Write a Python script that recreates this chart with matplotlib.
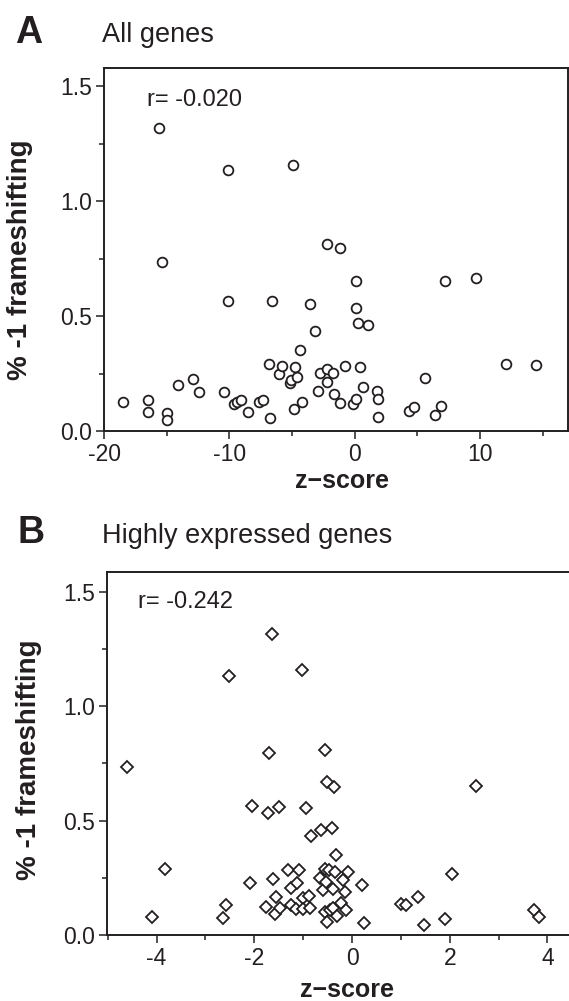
import numpy as np
import matplotlib
matplotlib.use("Agg")
import matplotlib.pyplot as plt
from matplotlib.ticker import MultipleLocator

plt.rcParams['font.family'] = ['Liberation Sans', 'DejaVu Sans']

# Panel A: all genes (z-score, % -1 frameshifting)
z_all = [-18.5, -16.5, -16.5, -15.0, -15.0, -15.6, -15.4, -14.1, -12.9, -12.4,
         -10.4, -10.1, -10.1, -9.6, -9.4, -9.1, -8.5, -7.6, -7.3, -6.8,
         -6.75, -6.6, -6.0, -5.8, -5.2, -5.1, -4.9, -4.86, -4.8, -4.6,
         -4.35, -4.2, -3.6, -3.2, -2.95, -2.8, -2.2, -2.2, -2.2, -1.73,
         -1.67, -1.17, -1.14, -0.8, -0.13, 0.13, 0.13, 0.13, 0.28, 0.42,
         0.66, 1.07, 1.78, 1.89, 1.83, 4.3, 4.7, 5.6, 6.37, 6.85,
         7.2, 9.7, 12.1, 14.45]
fs_all = [0.127, 0.135, 0.081, 0.080, 0.048, 1.317, 0.736, 0.200, 0.226, 0.168,
          0.171, 1.135, 0.567, 0.117, 0.125, 0.135, 0.081, 0.127, 0.135, 0.291,
          0.055, 0.567, 0.248, 0.284, 0.207, 0.220, 1.157, 0.094, 0.277, 0.233,
          0.354, 0.127, 0.552, 0.436, 0.173, 0.251, 0.812, 0.268, 0.212, 0.254,
          0.162, 0.120, 0.794, 0.284, 0.116, 0.652, 0.535, 0.138, 0.471, 0.278,
          0.193, 0.461, 0.174, 0.139, 0.060, 0.088, 0.103, 0.229, 0.070, 0.109,
          0.652, 0.665, 0.290, 0.288]

# Panel B: highly expressed genes
z_high = [-4.61, -4.09, -3.82, -2.64, -2.57, -2.52, -2.09, -2.04, -1.75, -1.71,
          -1.70, -1.64, -1.62, -1.57, -1.55, -1.50, -1.48, -1.32, -1.25, -1.25,
          -1.14, -1.12, -1.09, -1.02, -1.0, -1.0, -0.94, -0.88, -0.86, -0.84,
          -0.63, -0.65, -0.60, -0.55, -0.52, -0.37, -0.55, -0.55, -0.54, -0.51,
          -0.48, -0.46, -0.41, -0.39, -0.39, -0.35, -0.32, -0.31, -0.22, -0.18,
          -0.15, -0.13, -0.08, 0.20, 0.24, 1.01, 1.11, 1.34, 1.47, 1.91,
          2.05, 2.53, 3.72, 3.82]
fs_high = [0.733, 0.077, 0.287, 0.073, 0.132, 1.131, 0.229, 0.563, 0.123, 0.534,
           0.796, 1.314, 0.244, 0.091, 0.164, 0.560, 0.120, 0.283, 0.205, 0.132,
           0.113, 0.229, 0.283, 1.156, 0.160, 0.113, 0.553, 0.171, 0.120, 0.432,
           0.458, 0.247, 0.197, 0.808, 0.667, 0.648, 0.287, 0.099, 0.232, 0.055,
           0.282, 0.109, 0.469, 0.203, 0.120, 0.276, 0.351, 0.084, 0.138, 0.241,
           0.188, 0.110, 0.276, 0.219, 0.052, 0.135, 0.132, 0.168, 0.044, 0.070,
           0.265, 0.650, 0.109, 0.077]

ink = '#231f20'

fig = plt.figure(figsize=(5.69, 10.01), dpi=100)
axA = fig.add_axes([0.1828, 0.5694, 0.815, 0.3626])
axB = fig.add_axes([0.1875, 0.0659, 0.8125, 0.3623])


def style(ax, major_x, minor_x):
    for s in ax.spines.values():
        s.set_linewidth(1.4)
        s.set_color(ink)
    ax.xaxis.set_major_locator(MultipleLocator(major_x))
    ax.xaxis.set_minor_locator(MultipleLocator(minor_x))
    ax.yaxis.set_major_locator(MultipleLocator(0.5))
    ax.yaxis.set_minor_locator(MultipleLocator(0.25))
    ax.tick_params(which='major', direction='out', length=5.5, width=1.1,
                   color=ink, labelsize=16.5, labelcolor=ink, pad=3)
    ax.tick_params(which='minor', direction='out', length=3.5, width=1.1, color=ink)
    ax.tick_params(top=False, right=False, which='both')
    ax.yaxis.set_major_formatter(plt.FormatStrFormatter('%.1f'))
    ax.xaxis.set_major_formatter(plt.FuncFormatter(lambda v, p: '%d' % v))


# Panel A
axA.plot(z_all, fs_all, 'o', ms=7, mfc='white', mec=ink, mew=1.3, clip_on=False)
axA.set_xlim(-20, 17)
axA.set_ylim(0, 1.578)
style(axA, 10, 5)
axA.set_xlabel('z\u2212score', fontsize=18, fontweight='bold', color=ink)
axA.xaxis.set_label_coords(0.513, -0.105)
axA.set_ylabel('% -1 frameshifting', fontsize=20, fontweight='bold', color=ink)
axA.yaxis.set_label_coords(-0.153, 0.471)
axA.text(0.092, 0.896, 'r= -0.020', transform=axA.transAxes, fontsize=17,
         color=ink, va='baseline')

# Panel B
axB.plot(z_high, fs_high, 'D', ms=6, mfc='white', mec=ink, mew=1.3, clip_on=False)
axB.set_xlim(-5.02, 4.44)
axB.set_ylim(0, 1.584)
style(axB, 2, 1)
axB.spines['right'].set_visible(False)
axB.set_xlabel('z\u2212score', fontsize=18, fontweight='bold', color=ink)
axB.xaxis.set_label_coords(0.519, -0.118)
axB.set_ylabel('% -1 frameshifting', fontsize=20, fontweight='bold', color=ink)
axB.yaxis.set_label_coords(-0.140, 0.4825)
axB.text(0.068, 0.902, 'r= -0.242', transform=axB.transAxes, fontsize=17,
         color=ink, va='baseline')

# panel letters and titles
fig.text(0.027, 0.957, 'A', fontsize=27, fontweight='bold', color=ink, va='baseline')
fig.text(0.179, 0.958, 'All genes', fontsize=19.5, color=ink, va='baseline')
fig.text(0.031, 0.4578, 'B', fontsize=27, fontweight='bold', color=ink, va='baseline')
fig.text(0.1787, 0.4572, 'Highly expressed genes', fontsize=19.5, color=ink, va='baseline')

fig.savefig('out.png', dpi=100)
